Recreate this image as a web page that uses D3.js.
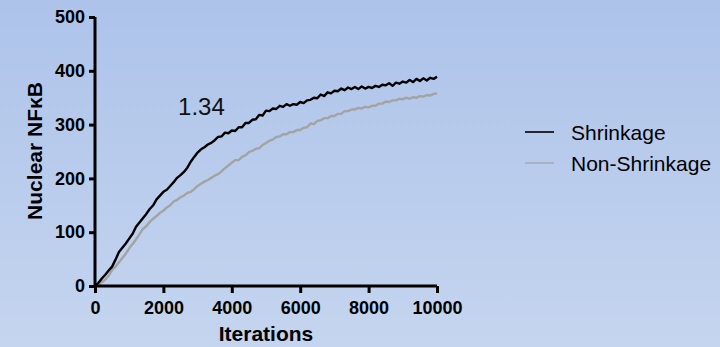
<!DOCTYPE html>
<html><head><meta charset="utf-8">
<script src="https://cdn.jsdelivr.net/npm/d3@7"></script>
<style>
html,body{margin:0;padding:0;}
body{width:720px;height:347px;overflow:hidden;}
text{font-family:Arial,"Liberation Sans",sans-serif;}
</style></head>
<body>
<svg id="chart" width="720" height="347"></svg>
<script>
// ---- data ----
const iterationStep = 100;
const shrinkage = [
  0,6,14,21,29,36,49,63,71,79,
  88,97,110,118,126,134,143,150,161,168,
  175,179,186,193,201,206,212,220,231,240,
  248,254,258,263,266,271,277,278,285,284,
  289,288,295,295,303,303,309,310,318,317,
  326,325,330,329,335,333,338,335,338,337,
  342,340,345,346,350,349,356,353,360,358,
  363,362,367,364,369,366,370,366,371,367,
  370,368,372,370,374,373,377,372,378,376,
  380,378,383,379,385,381,386,382,387,385,
  389
];
const nonShrinkage = [
  0,3,7,12,19,30,36,44,52,60,
  70,78,87,96,106,111,119,125,130,136,
  140,146,150,157,160,165,168,173,175,180,
  186,190,194,197,201,205,208,213,219,224,
  229,234,234,240,243,249,251,255,256,262,
  266,270,272,277,278,282,282,286,286,290,
  290,294,295,302,301,307,308,312,312,316,
  316,320,320,325,325,328,328,331,330,333,
  332,335,335,339,339,343,342,345,345,348,
  347,350,348,351,350,353,352,355,354,357,
  358
];
const seriesNames = ["Shrinkage", "Non-Shrinkage"];
const xTicks = [0, 2000, 4000, 6000, 8000, 10000];
const yTicks = [0, 100, 200, 300, 400, 500];
const annotation = {x: 2430, y: 318, text: "1.34"};

// ---- drawing ----
const svg = d3.select("#chart");
const defs = svg.append("defs");
const grad = defs.append("linearGradient").attr("id","bg").attr("x1",0).attr("y1",0).attr("x2",0).attr("y2",1);
grad.append("stop").attr("offset","0%").attr("stop-color","#adc3ea");
grad.append("stop").attr("offset","100%").attr("stop-color","#c5d5ef");
svg.append("rect").attr("width",720).attr("height",347).attr("fill","url(#bg)");

const x = d3.scaleLinear().domain([0,10000]).range([95,437]);
const y = d3.scaleLinear().domain([0,500]).range([286,17]);

const line = d3.line().x((d,i)=>x(i*iterationStep)).y(d=>y(d));

svg.append("path").datum(nonShrinkage).attr("d",line).attr("fill","none")
  .attr("stroke","#a3a3a3").attr("stroke-width",2.4).attr("stroke-linejoin","round");
svg.append("path").datum(shrinkage).attr("d",line).attr("fill","none")
  .attr("stroke","#000").attr("stroke-width",2.4).attr("stroke-linejoin","round");

const xAxis = svg.append("g").attr("transform","translate(0,286)")
  .call(d3.axisBottom(x).tickValues(xTicks).tickSize(7).tickPadding(8).tickFormat(d3.format("d")));
const yAxis = svg.append("g").attr("transform","translate(95,0)")
  .call(d3.axisLeft(y).tickValues(yTicks).tickSize(6).tickPadding(4).tickFormat(d3.format("d")));
[xAxis,yAxis].forEach(g=>{
  g.select(".domain").attr("stroke","#000").attr("stroke-width",3);
  g.selectAll(".tick line").attr("stroke","#000").attr("stroke-width",3);
  g.selectAll(".tick text").attr("fill","#000").style("font-size","18px").style("font-weight","bold")
    .style("font-family","Arial, 'Liberation Sans', sans-serif");
});
xAxis.select(".domain").attr("d","M95,0H437");
yAxis.select(".domain").attr("d","M0,17V286");

svg.append("text").attr("x",266).attr("y",341).attr("text-anchor","middle")
  .style("font-size","21px").style("font-weight","bold").text("Iterations");
svg.append("text").attr("transform","translate(42,151) rotate(-90)").attr("text-anchor","middle")
  .style("font-size","21px").style("font-weight","bold").text("Nuclear NFκB");

svg.append("text").attr("x",x(annotation.x)).attr("y",y(annotation.y))
  .style("font-size","24px").attr("fill","#111").text(annotation.text);

// legend
const legend = svg.append("g");
const legColors = ["#000","#a0a0a0"];
const legWidths = [1.6,1.2];
seriesNames.forEach((name,i)=>{
  const yy = 132 + i*31;
  legend.append("line").attr("x1",525).attr("x2",554).attr("y1",yy).attr("y2",yy)
    .attr("stroke",legColors[i]).attr("stroke-width",legWidths[i]);
  legend.append("text").attr("x",571).attr("y",yy+8).style("font-size","21px").attr("fill","#000").text(name);
});
</script>
</body></html>
